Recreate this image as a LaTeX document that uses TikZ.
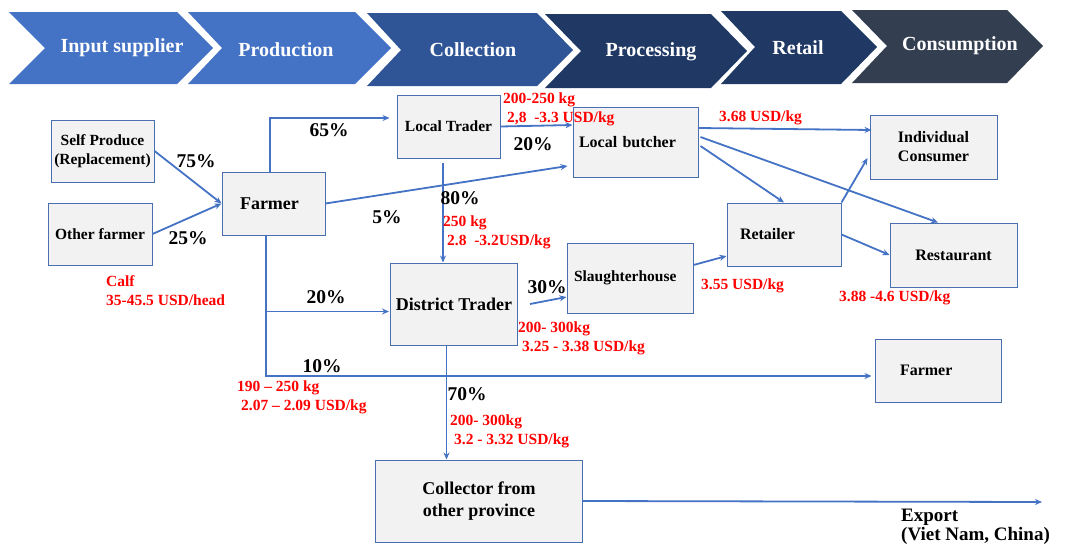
\documentclass[tikz,border=0pt]{standalone}
\usepackage{fontspec}
\setmainfont{Liberation Serif}
\usetikzlibrary{arrows.meta,calc}
\definecolor{cA}{HTML}{4472C4}
\definecolor{cB}{HTML}{2F5597}
\definecolor{cC}{HTML}{203864}
\definecolor{cD}{HTML}{333F50}
\definecolor{boxfill}{HTML}{F2F2F2}
\definecolor{boxline}{HTML}{4A6FB0}
\definecolor{arrowc}{HTML}{4472C4}
\definecolor{redt}{HTML}{FF0000}
\begin{document}
\begin{tikzpicture}[x=1pt,y=-1pt,
 box/.style={draw=boxline, line width=1pt, fill=boxfill, font=\fontsize{16}{19}\selectfont\bfseries, inner sep=0pt, align=center},
 arr/.style={draw=arrowc, line width=1.8pt, -{Stealth[length=7pt,width=6pt]}},
 pct/.style={font=\fontsize{19.5}{20}\selectfont\bfseries, inner sep=0pt},
 price/.style={font=\fontsize{15.5}{19}\selectfont\bfseries, text=redt, anchor=west, align=left, inner sep=0pt},
 chevtext/.style={text=white, font=\fontsize{20}{22}\selectfont\bfseries, inner sep=0pt}
]
\useasboundingbox (0,0) rectangle (1065,549);

% chevrons
\fill[cA] (9,12) -- (177,12) -- (213,48) -- (177,84) -- (9,84) -- (45,48) -- cycle;
\fill[cA] (188,12) -- (355,12) -- (391,48) -- (355,84) -- (188,84) -- (222,48) -- cycle;
\fill[cB] (367,13) -- (537,13) -- (573,50) -- (537,86) -- (367,86) -- (401,50) -- cycle;
\fill[cC] (545,14) -- (711,14) -- (747,51) -- (711,88) -- (545,88) -- (581,51) -- cycle;
\fill[cC] (721,11) -- (841,11) -- (877,47) -- (841,84) -- (721,84) -- (755,47) -- cycle;
\fill[cD] (852,10) -- (1007,10) -- (1043,46) -- (1007,83) -- (852,83) -- (887,46) -- cycle;
\node[chevtext] (t1) at (122,48) {Input supplier};
\node[chevtext] (t2) at (286,50) {Production};
\node[chevtext] (t3) at (473,50) {Collection};
\node[chevtext] (t4) at (651,52) {Processing};
\node[chevtext] (t5) at (798,48) {Retail};
\node[chevtext] (t6) at (960,46) {Consumption};

% boxes
\node[box, minimum width=103pt, minimum height=62pt, font=\fontsize{15.5}{19}\selectfont\bfseries] (self) at (102.5,151) {Self Produce\\(Replacement)};
\node[box, minimum width=104pt, minimum height=62pt, font=\fontsize{15.5}{19}\selectfont\bfseries] (other) at (100,234) {Other farmer};
\node[box, inner xsep=18pt, text width=67pt, minimum height=63pt, align=left, font=\fontsize{18}{20}\selectfont\bfseries] (farmer) at (273.5,203.5) {Farmer};
\node[box, minimum width=103pt, minimum height=63pt, font=\fontsize{15.5}{19}\selectfont\bfseries] (lt) at (448.5,126.5) {Local Trader};
\node[box, inner xsep=6pt, text width=113pt, minimum height=70pt, align=left] (lb) at (635.5,142) {Local butcher};
\node[box, minimum width=127pt, minimum height=64pt] (ic) at (933.5,147) {Individual\\Consumer};
\node[box, inner xsep=13pt, text width=88pt, minimum height=63pt, align=left] (ret) at (784,234.5) {Retailer};
\node[box, minimum width=127pt, minimum height=64pt] (rest) at (953.5,255) {Restaurant};
\node[box, inner xsep=7pt, text width=112pt, minimum height=70pt, align=left, font=\fontsize{15.5}{19}\selectfont\bfseries] (sh) at (630,278) {Slaughterhouse};
\node[box, minimum width=127pt, minimum height=82pt, font=\fontsize{18}{20}\selectfont\bfseries] (dt) at (454,304) {District Trader};
\node[box, inner xsep=25pt, text width=76pt, minimum height=63pt, align=left] (f2) at (938,370.5) {Farmer};
\node[box, minimum width=207pt, minimum height=82pt, font=\fontsize{18}{22}\selectfont\bfseries] (col) at (479,501) {Collector from\\other province};

% helper coordinates
\coordinate (fs) at ([xshift=-7.5pt]farmer.south);
\coordinate (dtin) at ([xshift=-1pt,yshift=-7.5pt]dt.west);
\coordinate (f2in) at ([xshift=-3pt,yshift=-5.5pt]f2.west);
\coordinate (ltS) at ([xshift=-5.5pt,yshift=-4pt]lt.south);
\coordinate (dtS) at ([xshift=-7.5pt]dt.south);
\coordinate (exp) at (1042,502);

% connectors
\draw[arr] (self.east) -- (farmer.west);
\draw[arr] (other.east) -- (farmer.west);
\draw[arr] ([xshift=-3.5pt]farmer.north) |- ([xshift=-7pt,yshift=8.5pt]lt.west);
\draw[arr] (fs) |- (f2in);
\draw[arr] (fs |- dtin) -- (dtin);
\draw[arr] (farmer.east) -- ([xshift=-5pt,yshift=-24pt]lb.west);
\draw[arr] (lt.east) -- ([yshift=17pt]lb.west);
\draw[arr] (ltS) -- (ltS |- dt.north);
\draw[arr] (dtS) -- (dtS |- col.north);
\draw[arr] ([xshift=12pt]dt.east) -- ([yshift=-19pt]sh.west);
\draw[arr] ([yshift=13pt]sh.east) -- ([yshift=-21.5pt]ret.west);
\draw[arr] ([yshift=14pt]lb.east) -- ([xshift=2pt,yshift=17pt]ic.west);
\draw[arr] ([xshift=2pt,yshift=5pt]lb.east) -- ([xshift=-15.5pt]rest.north);
\draw[arr] ([xshift=2pt,yshift=-4pt]lb.east) -- (ret.north);
\draw[arr] (ret.north east) -- ([xshift=-2pt,yshift=-11pt]ic.west);
\draw[arr] (ret.east) -- (rest.west);
\draw[arr] (col.east) -- (exp);

% percentages
\node[pct] (p75) at (196,161) {75\%};
\node[pct] (p25) at (188,238) {25\%};
\node[pct] (p65) at (329,130) {65\%};
\node[pct] (p5) at (387,217) {5\%};
\node[pct] (p20a) at (326,297) {20\%};
\node[pct] (p10) at (322,366) {10\%};
\node[pct] (p80) at (460,198) {80\%};
\node[pct] (p70) at (467,394) {70\%};
\node[pct] (p30) at (547,287) {30\%};
\node[pct] (p20b) at (533,144) {20\%};

% prices
\node[price] (calf) at (106,291) {Calf\\35-45.5 USD/head};
\node[price] (pr1) at (503,109.5) {200-250 kg\\\hspace*{4pt}2,8\ \ -3.3 USD/kg};
\node[price] (pr2) at (443,232) {250 kg\\\hspace*{4pt}2.8\ \ -3.2USD/kg};
\node[price] (pr3) at (719,118) {3.68 USD/kg};
\node[price] (pr4) at (701,286) {3.55 USD/kg};
\node[price] (pr5) at (839,298) {3.88 -4.6 USD/kg};
\node[price] (pr6) at (518,338) {200- 300kg\\\hspace*{4pt}3.25 - 3.38 USD/kg};
\node[price] (pr7) at (237,397.5) {190 -- 250 kg\\\hspace*{4pt}2.07 -- 2.09 USD/kg};
\node[price] (pr8) at (450,431.5) {200- 300kg\\\hspace*{4pt}3.2 - 3.32 USD/kg};

% export
\node[font=\fontsize{19}{18.5}\selectfont\bfseries, anchor=west, align=left, inner sep=0pt] (export) at (901,527) {Export\\(Viet Nam, China)};
\end{tikzpicture}
\end{document}
